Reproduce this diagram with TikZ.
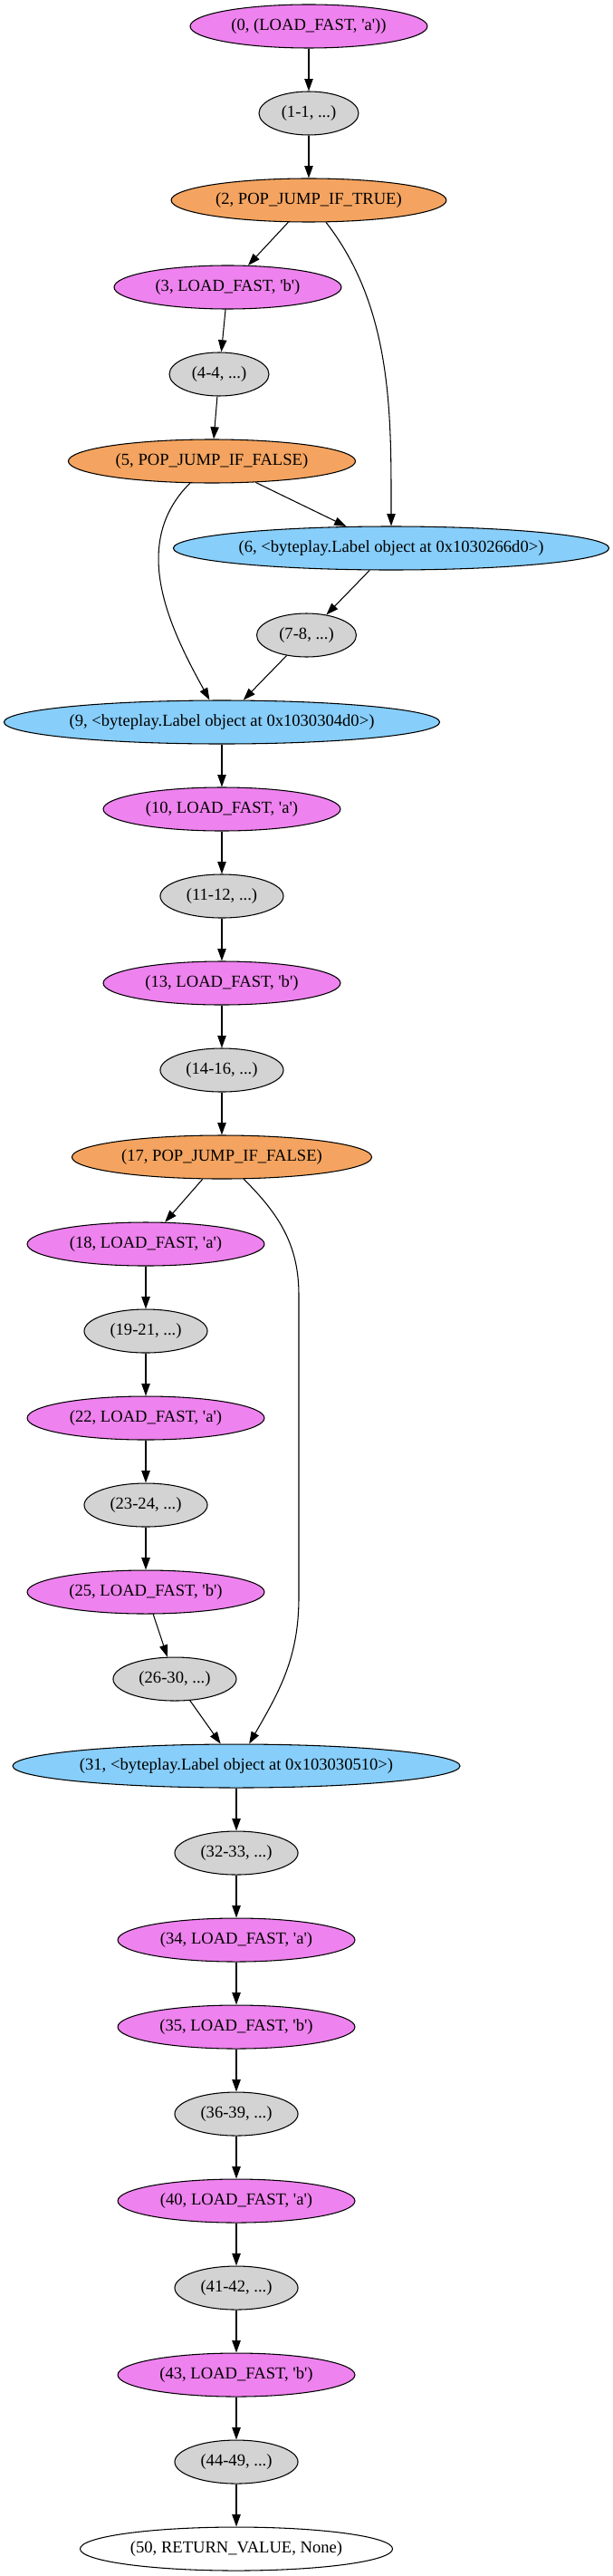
\documentclass[tikz,border=0pt]{standalone}
\usepackage{fontspec}
\usepackage{tikz}
\usepackage{xcolor}
\usetikzlibrary{arrows.meta,shapes.geometric}
\newfontfamily\gvfont{Liberation Serif}
\definecolor{loadviolet}{HTML}{EE82EE}
\definecolor{jumpsand}{HTML}{F4A460}
\definecolor{labelsky}{HTML}{87CEFA}
\definecolor{rangegray}{HTML}{D3D3D3}
\tikzset{
  opnode/.style={ellipse,draw=black,line width=0.8pt,inner sep=0pt,
                 minimum height=1.27cm,font=\gvfont\fontsize{14}{16}\selectfont},
  loadop/.style={opnode,fill=loadviolet,minimum width=6.93cm},
  jumpop/.style={opnode,fill=jumpsand,minimum width=#1},
  labelop/.style={opnode,fill=labelsky,minimum width=#1},
  rangeop/.style={opnode,fill=rangegray,minimum width=#1},
  rangeop/.default=3.60cm,
  retop/.style={opnode,fill=white,minimum width=9.13cm},
  flow/.style={-{Triangle[length=10pt,width=7pt]},line width=0.8pt,draw=black}
}

\begin{document}
\begin{tikzpicture}[x=1cm,y=1cm]
    \path[use as bounding box] (0,0) rectangle (17.912,-75.22);
    % first branch block
    \node[loadop] (n0) at (9.022,-0.767) {(0, (LOAD\_FAST, 'a'))};
    \node[rangeop=2.91cm] (n1) at (9.022,-3.307) {(1-1, ...)};
    \node[jumpop=8.04cm] (n2) at (9.022,-5.847) {(2, POP\_JUMP\_IF\_TRUE)};
    \node[loadop,minimum width=6.64cm] (n3) at (6.654,-8.387) {(3, LOAD\_FAST, 'b')};
    \node[rangeop=2.91cm] (n4) at (6.403,-10.927) {(4-4, ...)};
    \node[jumpop=8.39cm] (n5) at (6.191,-13.467) {(5, POP\_JUMP\_IF\_FALSE)};
    \node[labelop=12.73cm] (n6) at (11.430,-16.007) {(6, <byteplay.Label object at 0x1030266d0>)};
    \node[rangeop=2.91cm] (n7) at (8.956,-18.547) {(7-8, ...)};
    \node[labelop=12.73cm] (n9) at (6.482,-21.087) {(9, <byteplay.Label object at 0x1030304d0>)};
    % second branch block
    \node[loadop] (n10) at (6.482,-23.627) {(10, LOAD\_FAST, 'a')};
    \node[rangeop] (n11) at (6.482,-26.167) {(11-12, ...)};
    \node[loadop] (n13) at (6.482,-28.707) {(13, LOAD\_FAST, 'b')};
    \node[rangeop] (n14) at (6.482,-31.247) {(14-16, ...)};
    \node[jumpop=8.76cm] (n17) at (6.482,-33.787) {(17, POP\_JUMP\_IF\_FALSE)};
    \node[loadop] (n18) at (4.260,-36.327) {(18, LOAD\_FAST, 'a')};
    \node[rangeop] (n19) at (4.260,-38.867) {(19-21, ...)};
    \node[loadop] (n22) at (4.260,-41.407) {(22, LOAD\_FAST, 'a')};
    \node[rangeop] (n23) at (4.260,-43.947) {(23-24, ...)};
    \node[loadop] (n25) at (4.260,-46.487) {(25, LOAD\_FAST, 'b')};
    \node[rangeop] (n26) at (5.106,-49.027) {(26-30, ...)};
    \node[labelop=13.07cm] (n31) at (6.906,-51.567) {(31, <byteplay.Label object at 0x103030510>)};
    % tail
    \node[rangeop] (n32) at (6.906,-54.107) {(32-33, ...)};
    \node[loadop] (n34) at (6.906,-56.647) {(34, LOAD\_FAST, 'a')};
    \node[loadop] (n35) at (6.906,-59.187) {(35, LOAD\_FAST, 'b')};
    \node[rangeop] (n36) at (6.906,-61.727) {(36-39, ...)};
    \node[loadop] (n40) at (6.906,-64.267) {(40, LOAD\_FAST, 'a')};
    \node[rangeop] (n41) at (6.906,-66.807) {(41-42, ...)};
    \node[loadop] (n43) at (6.906,-69.347) {(43, LOAD\_FAST, 'b')};
    \node[rangeop] (n44) at (6.906,-71.887) {(44-49, ...)};
    \node[retop] (n50) at (6.906,-74.427) {(50, RETURN\_VALUE, None)};

    \draw[flow] (n0) -- (n1);
    \draw[flow] (n1) -- (n2);
    \draw[flow] (n2) -- (n3);
    \draw[flow] (n2) to[out=-52,in=90,looseness=0.9] (n6);
    \draw[flow] (n3) -- (n4);
    \draw[flow] (n4) -- (n5);
    \draw[flow] (n5) -- (n6);
    \draw[flow] (n5) to[out=-135,in=119] (n9);
    \draw[flow] (n6) -- (n7);
    \draw[flow] (n7) -- (n9);
    \draw[flow] (n9) -- (n10);
    \draw[flow] (n10) -- (n11);
    \draw[flow] (n11) -- (n13);
    \draw[flow] (n13) -- (n14);
    \draw[flow] (n14) -- (n17);
    \draw[flow] (n17) -- (n18);
    \draw[flow] (n17) to[out=-45,in=90] (8.731,-37.81) -- (8.731,-46.65)
      to[out=-90,in=60] (n31);
    \draw[flow] (n18) -- (n19);
    \draw[flow] (n19) -- (n22);
    \draw[flow] (n22) -- (n23);
    \draw[flow] (n23) -- (n25);
    \draw[flow] (n25) -- (n26);
    \draw[flow] (n26) -- (n31);
    \draw[flow] (n31) -- (n32);
    \draw[flow] (n32) -- (n34);
    \draw[flow] (n34) -- (n35);
    \draw[flow] (n35) -- (n36);
    \draw[flow] (n36) -- (n40);
    \draw[flow] (n40) -- (n41);
    \draw[flow] (n41) -- (n43);
    \draw[flow] (n43) -- (n44);
    \draw[flow] (n44) -- (n50);
  \end{tikzpicture}
\end{document}
